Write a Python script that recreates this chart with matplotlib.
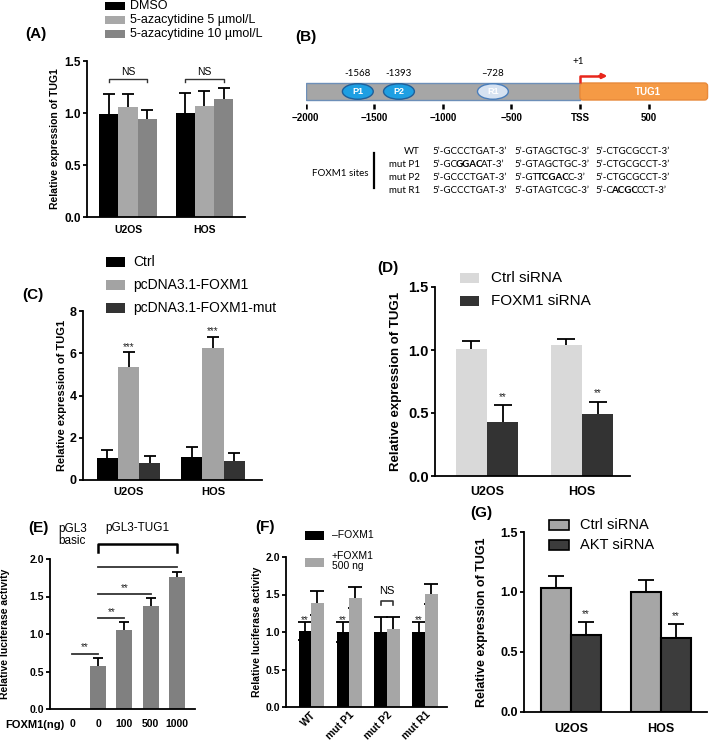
import re
import numpy as np
import matplotlib
matplotlib.use('Agg')
import matplotlib.pyplot as plt
from matplotlib.patches import Rectangle, Ellipse, FancyBboxPatch

plt.rcParams['font.family'] = ['Liberation Sans', 'DejaVu Sans']
plt.rcParams['axes.linewidth'] = 1.3

W, H = 709, 748

cells = ['U2OS', 'HOS']

# (A) 5-azacytidine
a_series = ['DMSO', '5-azacytidine 5 µmol/L', '5-azacytidine 10 µmol/L']
a_vals = [[0.99, 1.00], [1.06, 1.07], [0.94, 1.13]]
a_errs = [[0.19, 0.19], [0.12, 0.14], [0.09, 0.11]]

# (B) promoter map
b_ticks = [-2000, -1500, -1000, -500, 0, 500]
b_tick_labels = ['−2000', '−1500', '−1000', '−500', 'TSS', '500']
site_names = ['P1', 'P2', 'R1']
site_pos = [-1620, -1320, -635]
site_labels = ['-1568', '-1393', '–728']
seq_rows = ['WT', 'mut P1', 'mut P2', 'mut R1']
seq_table = [
    ['5’-GCCCTGAT-3’', '5’-GTAGCTGC-3’', '5’-CTGCGCCT-3’'],
    ['5’-GC[GGAC]AT-3’', '5’-GTAGCTGC-3’', '5’-CTGCGCCT-3’'],
    ['5’-GCCCTGAT-3’', '5’-GT[TCGAC]C-3’', '5’-CTGCGCCT-3’'],
    ['5’-GCCCTGAT-3’', '5’-GTAGTCGC-3’', '5’-C[ACGC]CCT-3’'],
]

# (C) overexpression
c_series = ['Ctrl', 'pcDNA3.1-FOXM1', 'pcDNA3.1-FOXM1-mut']
c_vals = [[1.03, 1.07], [5.33, 6.25], [0.82, 0.91]]
c_errs = [[0.37, 0.48], [0.71, 0.52], [0.32, 0.35]]

# (D) FOXM1 knockdown
d_series = ['Ctrl siRNA', 'FOXM1 siRNA']
d_vals = [[1.01, 1.04], [0.43, 0.49]]
d_errs = [[0.065, 0.05], [0.13, 0.10]]

# (E) luciferase dose
e_doses = ['0', '0', '100', '500', '1000']
e_vals = [0, 0.58, 1.05, 1.37, 1.76]
e_errs = [0, 0.10, 0.11, 0.11, 0.07]
e_pairs = [(0, 1, 0.74), (1, 2, 1.21), (1, 3, 1.53), (1, 4, 1.89)]

# (F) mutant constructs
f_constructs = ['WT', 'mut P1', 'mut P2', 'mut R1']
f_series = ['–FOXM1', '+FOXM1\n500 ng']
f_vals = [[1.015, 1.0, 1.0, 1.0], [1.39, 1.46, 1.04, 1.51]]
f_errs = [[0.115, 0.13, 0.2, 0.13], [0.16, 0.14, 0.16, 0.13]]
f_marks = ['**', '**', '', '**']

# (G) AKT knockdown
g_series = ['Ctrl siRNA', 'AKT siRNA']
g_vals = [[1.03, 1.0], [0.64, 0.615]]
g_errs = [[0.10, 0.10], [0.11, 0.12]]

fig = plt.figure(figsize=(W / 100, H / 100), dpi=100)


def panel_axes(l, t, r, b):
    return fig.add_axes([l / W, 1 - b / H, (r - l) / W, (b - t) / H])


def style(ax, ymax, yticks, ylabels, ysize, xticks, xlabels, xsize, xpad, lsize, lx,
          ylab='Relative expression of TUG1'):
    ax.spines[['top', 'right']].set_visible(False)
    ax.set_ylim(0, ymax)
    ax.set_yticks(yticks)
    ax.set_yticklabels(ylabels, fontweight='bold')
    ax.set_xticks(xticks)
    ax.set_xticklabels(xlabels, fontweight='bold')
    ax.tick_params(axis='y', length=3, width=1.3, labelsize=ysize, pad=1.5)
    ax.tick_params(axis='x', length=0, labelsize=xsize, pad=xpad)
    ax.set_ylabel(ylab, fontsize=lsize, fontweight='bold')
    pos = ax.get_position()
    ax.yaxis.set_label_coords(lx / W, pos.y0 + pos.height / 2, transform=fig.transFigure)


def grouped(ax, vals, errs, colors, width, cap, edge=None):
    n = len(vals)
    x = np.arange(len(vals[0]))
    xs = []
    for i, (v, e, c) in enumerate(zip(vals, errs, colors)):
        xi = x + (i - (n - 1) / 2) * width
        ax.errorbar(xi, v, yerr=e, fmt='none', ecolor='black', elinewidth=1.3,
                    capsize=cap, capthick=1.3, zorder=1)
        ax.bar(xi, v, width, color=c, edgecolor=edge if edge else c,
               linewidth=1.5 if edge else 0, zorder=2)
        xs.append(xi)
    return xs


def stars(ax, x, y, s, size=7):
    ax.annotate(s, (x, y), xytext=(0, -size * 0.58), textcoords='offset points',
                ha='center', va='baseline', fontsize=size, color='#222222')


# ---------------- (A) ----------------
axA = panel_axes(87, 61, 245, 217)
axA.set_xlim(-0.536, 1.53)
xa = grouped(axA, a_vals, a_errs, ['#000000', '#a8a8a8', '#858585'], 0.25, 4.3)
style(axA, 1.5, [0, 0.5, 1.0, 1.5], ['0.0', '0.5', '1.0', '1.5'], 8.5,
      [0, 1], cells, 7.5, 6, 7.5, 60)
for g in range(2):
    x0, x1 = xa[0][g], xa[2][g]
    axA.plot([x0, x0, x1, x1], [1.30, 1.33, 1.33, 1.30], color='#333333', lw=1, clip_on=False)
    axA.text((x0 + x1) / 2, 1.395, 'NS', ha='center', va='center', fontsize=7.5)

# ---------------- (B) ----------------
axB = panel_axes(305.7, 50, 709, 125)
axB.set_xlim(-2000, 940.6)
axB.set_ylim(125, 50)
axB.axis('off')
axB.add_patch(Rectangle((-2000, 83), 2000, 17, facecolor='#a6a6a6', edgecolor='#6d8fb8', lw=1))
axB.add_patch(FancyBboxPatch((0, 83), 930, 17, boxstyle='round,pad=0,rounding_size=22',
                             mutation_aspect=0.137, facecolor='#f59a45',
                             edgecolor='#e8893a', lw=1))
axB.text(496, 92, 'TUG1', color='white', fontweight='bold', fontsize=7, ha='center', va='center')
for name, p, lab in zip(site_names, site_pos, site_labels):
    pale = name.startswith('R')
    axB.add_patch(Ellipse((p, 91.5), 225, 15.5, facecolor='#d6e2f1' if pale else '#1e9fe2',
                          edgecolor='#4a7ebb' if pale else '#1f5f99', lw=1))
    axB.text(p, 92, name, color='white', fontweight='bold', fontsize=6.5, ha='center', va='center')
    axB.text(p, 73, lab, fontsize=7, family='Lato', ha='center', va='center')
axB.vlines(b_ticks, 104, 109, color='black', lw=1.8)
for t, lab in zip(b_ticks, b_tick_labels):
    axB.text(t, 118, lab, fontsize=7, fontweight='bold', ha='center', va='center')
axB.text(-15, 62, '+1', fontsize=7, family='Lato', ha='center', va='center')
axB.plot([0, 0, 150], [83, 76, 76], color='#e8261c', lw=1.8, solid_capstyle='butt')
axB.annotate('', xy=(200, 76), xytext=(140, 76),
             arrowprops=dict(arrowstyle='-|>', color='#e8261c', lw=1.8, mutation_scale=7,
                             shrinkA=0, shrinkB=0))

# ---------------- (C) ----------------
axC = panel_axes(83, 311, 262, 480)
axC.set_xlim(-0.54, 1.58)
xc = grouped(axC, c_vals, c_errs, ['#000000', '#a3a3a3', '#333333'], 0.25, 4.3)
style(axC, 8, [0, 2, 4, 6, 8], ['0', '2', '4', '6', '8'], 9,
      [0, 1], cells, 8, 5, 8, 67)
for g in range(2):
    stars(axC, xc[1][g], c_vals[1][g] + c_errs[1][g] + 0.4, '***')

# ---------------- (D) ----------------
axD = panel_axes(435, 287, 630, 476)
axD.set_xlim(-0.547, 1.505)
xd = grouped(axD, d_vals, d_errs, ['#d9d9d9', '#333333'], 0.327, 6.5)
style(axD, 1.5, [0, 0.5, 1.0, 1.5], ['0.0', '0.5', '1.0', '1.5'], 10.5,
      [0, 1], cells, 9, 7, 9.5, 402)
for g in range(2):
    stars(axD, xd[1][g], d_vals[1][g] + d_errs[1][g] + 0.09, '**')

# ---------------- (E) ----------------
axE = panel_axes(50, 559, 195, 709)
axE.set_xlim(-0.84, 4.69)
xe = np.arange(len(e_vals))
axE.errorbar(xe[1:], e_vals[1:], yerr=e_errs[1:], fmt='none', ecolor='black',
             elinewidth=1.3, capsize=3.6, capthick=1.3, zorder=1)
axE.bar(xe, e_vals, 0.61, color='#808080', zorder=2)
style(axE, 2.0, [0, 0.5, 1.0, 1.5, 2.0], ['0.0', '0.5', '1.0', '1.5', '2.0'], 7.5,
      xe, e_doses, 7.5, 7, 7.5, 10, ylab='Relative luciferase activity')
for a, b, y in e_pairs:
    axE.plot([a, b], [y, y], color='#333333', lw=1.3, clip_on=False)
    stars(axE, (a + b) / 2, y + 0.12, '**')
axE.plot([1, 1, 4, 4], [2.09, 2.2, 2.2, 2.09], color='black', lw=1.8, clip_on=False)
axE.text(2.5, 2.41, 'pGL3-TUG1', fontsize=8.5, ha='center', va='center')
axE.text(-0.53, 2.32, 'pGL3\nbasic', fontsize=8.5, ha='left', va='center', linespacing=1.0)

# ---------------- (F) ----------------
axF = panel_axes(286, 557, 447, 707)
axF.set_xlim(-0.66, 3.58)
xf = grouped(axF, f_vals, f_errs, ['#000000', '#a6a6a6'], 0.33, 4.7)
style(axF, 2.0, [0, 0.5, 1.0, 1.5, 2.0], ['0.0', '0.5', '1.0', '1.5', '2.0'], 7.5,
      np.arange(4), f_constructs, 7.5, 2, 7.5, 262, ylab='Relative luciferase activity')
for lbl in axF.get_xticklabels():
    lbl.set_rotation(45)
    lbl.set_ha('right')
    lbl.set_rotation_mode('anchor')
for g, m in enumerate(f_marks):
    if m:
        stars(axF, xf[0][g], 1.19, m)
    else:
        x0, x1 = xf[0][g], xf[1][g]
        axF.plot([x0, x0, x1, x1], [1.36, 1.41, 1.41, 1.36], color='#333333', lw=1.2)
        axF.text(2, 1.55, 'NS', ha='center', va='center', fontsize=8)

# ---------------- (G) ----------------
axG = panel_axes(524, 532, 707, 712)
axG.set_xlim(-0.52, 1.51)
xg = grouped(axG, g_vals, g_errs, ['#a6a6a6', '#3c3c3c'], 0.333, 5.8, edge='black')
style(axG, 1.5, [0, 0.5, 1.0, 1.5], ['0.0', '0.5', '1.0', '1.5'], 9,
      [0, 1], cells, 9, 8, 9, 488)
for g in range(2):
    stars(axG, xg[1][g], g_vals[1][g] + g_errs[1][g] + 0.09, '**')

# ---------------- overlay: labels, legends, sequence table ----------------
ov = fig.add_axes([0, 0, 1, 1])
ov.set_xlim(0, W)
ov.set_ylim(H, 0)
ov.axis('off')

for lab, x, y in [('(A)', 25, 34), ('(B)', 295, 37), ('(C)', 22, 295), ('(D)', 377, 268),
                  ('(E)', 28, 528), ('(F)', 255, 527), ('(G)', 470, 513)]:
    ov.text(x, y, lab, fontsize=11, fontweight='bold', ha='left', va='center')


def legend_px(labels, colors, x, ys, w, h, tx, size, edge=None, tys=None):
    tys = tys or ys
    for lab, c, y, ty in zip(labels, colors, ys, tys):
        ov.add_patch(Rectangle((x, y - h / 2), w, h, facecolor=c,
                               edgecolor=edge if edge else c, lw=1.2 if edge else 0))
        ov.text(tx, ty, lab, fontsize=size, ha='left', va='center', linespacing=1.1)


legend_px(a_series, ['#000000', '#a8a8a8', '#858585'], 105, [6, 19.5, 33.5], 20, 8, 130, 9)
legend_px(c_series, ['#000000', '#a3a3a3', '#333333'], 106, [262, 285, 308], 19, 10, 133, 10)
legend_px(d_series, ['#d9d9d9', '#333333'], 460, [278, 301], 19, 10, 491, 11)
legend_px(f_series, ['#000000', '#a6a6a6'], 305, [535, 562], 19, 9, 332, 7.5, tys=[535, 561])
legend_px(g_series, ['#a6a6a6', '#3c3c3c'], 549, [525, 545], 20, 10, 580, 10.5, edge='black')

ov.text(65, 725, 'FOXM1(ng)', fontsize=8, fontweight='bold', ha='right', va='center')

# FOXM1 sites table
ov.text(368, 173, 'FOXM1 sites', fontsize=7, family='Lato', ha='right', va='center')
ov.plot([374, 374], [153, 188], color='black', lw=1.6)
row_y = [151, 164, 177, 190]
col_x = [432, 514, 595]
for name, y, row in zip(seq_rows, row_y, seq_table):
    ov.text(420, y, name, fontsize=7, family='Lato', ha='right', va='center')
    for x, seq in zip(col_x, row):
        parts = re.split(r'\[|\]', seq)
        t = ov.text(x, y, parts[0], fontsize=7, family='Lato', ha='left', va='center')
        for i, p in enumerate(parts[1:], 1):
            if not p:
                continue
            t = ov.annotate(p, xy=(1, 0), xycoords=t, xytext=(-1.2, 0),
                            textcoords='offset points', ha='left', va='bottom', fontsize=7,
                            family='Lato', fontweight='bold' if i % 2 else 'normal')

fig.savefig('out.png', dpi=100)
